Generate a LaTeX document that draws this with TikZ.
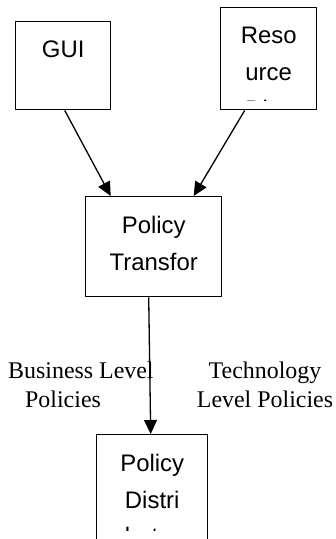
\documentclass[tikz,border=0pt]{standalone}
\usepackage{fontspec}
\setmainfont{Liberation Serif}
\newfontfamily\boxfont{Liberation Sans}
\usetikzlibrary{arrows.meta}

\begin{document}
\begin{tikzpicture}[>={Triangle[length=14bp,width=13bp]},line join=bevel,
  clipgap/.initial=9bp,
  unit/.style={draw, line width=1.4bp, inner sep=0pt, anchor=north west,
    path picture={
      \clip ([yshift=\pgfkeysvalueof{/tikz/clipgap}]path picture bounding box.south west)
        rectangle (path picture bounding box.north east);
      \node[unittext] at ([yshift=-18.5bp]path picture bounding box.north) {#1};}},
  unittext/.style={draw=none, anchor=north, align=center, inner sep=0pt,
    minimum width=0pt, minimum height=0pt,
    font=\boxfont\fontsize{24}{37}\selectfont},
  policytext/.style={inner sep=0pt, font=\fontsize{24}{29}\selectfont},
  flow/.style={->, line width=1.3bp}]
  \useasboundingbox (0bp,0bp) rectangle (336bp,539bp);
  \clip (0bp,0bp) rectangle (336bp,539bp);
%%
  % Node: gui
  \node[unit={GUI}, minimum width=95bp, minimum height=88bp] (gui) at (15bp,518bp) {};
  % Node: resource
  \node[unit={Reso\\urce\\Disc}, minimum width=96bp, minimum height=102bp] (resource) at (220bp,532bp) {};
  % Node: transfor
  \node[unit={Policy\\Transfor}, minimum width=136bp, minimum height=100bp] (transfor) at (85bp,343bp) {};
  % Node: distri
  \node[unit={Policy\\Distri\\butor}, clipgap=11bp, minimum width=111bp, minimum height=107bp] (distri) at (96bp,105bp) {};
  % Node: business
  \node[policytext, anchor=north west, align=left] (business) at (8bp,177.5bp)
    {Business Level\\\hspace*{17bp}Policies};
  % Node: technology
  \node[policytext, anchor=north, align=center] (technology) at (265bp,177bp)
    {Technology\\Level Policies};
%%
  % Edge: gui -> transfor
  \draw[flow] ([xshift=1.5bp]gui.south) -- ([xshift=-43bp]transfor.north);
  % Edge: resource -> transfor
  \draw[flow] ([xshift=-24bp]resource.south) -- ([xshift=40bp]transfor.north);
  % Edge: transfor -> distri
  \draw[flow] ([xshift=-5bp]transfor.south) -- ([xshift=-1.5bp]distri.north);
%
\end{tikzpicture}
\end{document}
